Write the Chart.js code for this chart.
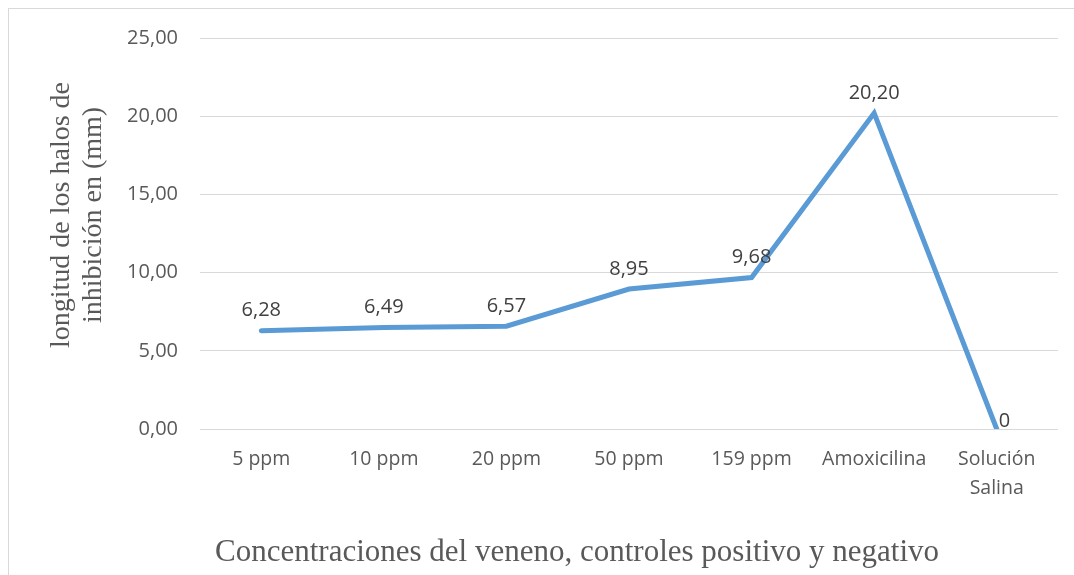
<!DOCTYPE html>
<html>
<head>
<meta charset="utf-8">
<script src="https://cdn.jsdelivr.net/npm/chart.js@4/dist/chart.umd.min.js"></script>
<style>
  html, body { margin: 0; padding: 0; background: #fff; }
  #wrap { width: 1074px; height: 575px; }
</style>
</head>
<body>
<div id="wrap"><canvas id="chart"></canvas></div>
<script>
// halos de inhibicion
const categories = ['5 ppm', '10 ppm', '20 ppm', '50 ppm', '159 ppm', 'Amoxicilina', ['Solución', 'Salina']];
const halos = [6.28, 6.49, 6.57, 8.95, 9.68, 20.20, 0];
const pointLabels = ['6,28', '6,49', '6,57', '8,95', '9,68', '20,20', '0'];
const yTicks = [0, 5, 10, 15, 20, 25];
const yTitle = ['longitud de los halos de', 'inhibición en (mm)'];
const xTitle = 'Concentraciones del veneno, controles positivo y negativo';

const fmt = v => v.toFixed(2).replace('.', ',');

// frame, axis titles and value labels
const extras = {
  id: 'extras',
  beforeDraw(chart) {
    const c = chart.ctx;
    c.save();
    c.strokeStyle = '#d9d9d9';
    c.lineWidth = 1;
    c.strokeRect(8.5, 8.5, 1080, 600);
    c.restore();
  },
  afterDraw(chart) {
    const c = chart.ctx;
    c.save();
    c.fillStyle = '#595959';
    c.font = '31px "Liberation Serif"';
    c.textAlign = 'center';
    c.textBaseline = 'middle';
    c.fillText(xTitle, 577, 553);

    c.font = '28px "Liberation Serif"';
    c.translate(78, 215);
    c.rotate(-Math.PI / 2);
    c.fillText(yTitle[0], 0, -16);
    c.fillText(yTitle[1], 0, 16);
    c.restore();

    const meta = chart.getDatasetMeta(0);
    c.save();
    c.fillStyle = '#404040';
    c.font = '20px "Open Sans"';
    c.textBaseline = 'middle';
    meta.data.forEach((pt, i) => {
      if (halos[i] === 0) {
        c.textAlign = 'left';
        c.fillText(pointLabels[i], pt.x + 2, pt.y - 8);
      } else {
        c.textAlign = 'center';
        c.fillText(pointLabels[i], pt.x, pt.y - 20);
      }
    });
    c.restore();
  }
};

new Chart(document.getElementById('chart'), {
  type: 'line',
  data: {
    labels: categories,
    datasets: [{
      data: halos,
      borderColor: '#5b9bd5',
      borderWidth: 5,
      pointRadius: 0,
      borderCapStyle: 'round',
      borderJoinStyle: 'miter',
      tension: 0
    }]
  },
  options: {
    responsive: true,
    maintainAspectRatio: false,
    animation: false,
    layout: { padding: { top: 38, right: 16, left: 0, bottom: 0 } },
    plugins: { legend: { display: false }, tooltip: { enabled: false } },
    scales: {
      x: {
        offset: true,
        grid: { display: false, drawTicks: false },
        border: { display: false },
        ticks: { color: '#595959', font: { family: 'Open Sans', size: 19.5, lineHeight: 1.5 }, padding: 16, maxRotation: 0, autoSkip: false },
        afterFit(scale) { scale.height = 146; }
      },
      y: {
        min: 0,
        max: 25,
        afterBuildTicks(scale) { scale.ticks = yTicks.map(v => ({ value: v })); },
        grid: { color: '#d9d9d9', lineWidth: 1, drawTicks: false },
        border: { display: false },
        ticks: { color: '#595959', font: { family: 'Open Sans', size: 20 }, padding: 22, callback: v => fmt(v) },
        afterFit(scale) { scale.width = 200; }
      }
    }
  },
  plugins: [extras]
});
</script>
</body>
</html>
